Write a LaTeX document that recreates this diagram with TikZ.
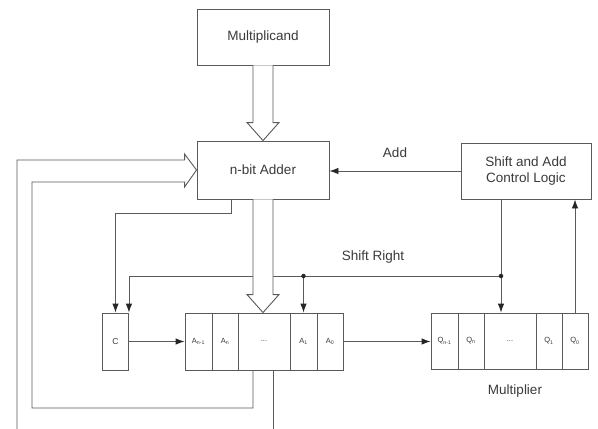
\documentclass[tikz,border=0pt]{standalone}
\usepackage{fontspec}
\setmainfont{Liberation Sans}
\usetikzlibrary{arrows.meta,calc}
\definecolor{lc}{HTML}{5A5A5A}
\definecolor{tc}{HTML}{3A3A3A}
\begin{document}
\begin{tikzpicture}[x=1pt,y=-1pt,
  box/.style={draw=lc, line width=0.9pt, inner sep=0pt, text=tc, font=\fontsize{13.5}{16}\selectfont, align=center},
  cell/.style={draw=lc, line width=0.9pt, inner sep=0pt, font=\fontsize{7.5}{8}\selectfont, text=tc},
  conn/.style={draw=lc, line width=0.9pt},
  arr/.style={conn, -{Latex[length=9pt,width=6.5pt,color=black!85]}},
  lbl/.style={text=tc, font=\fontsize{13.5}{16}\selectfont, inner sep=0pt},
  jdot/.style={circle, fill=black!85, inner sep=0pt, minimum size=4.5pt},
  bus/.style={draw=lc, line width=0.9pt, fill=white, line join=miter}
]
\useasboundingbox (0,0) rectangle (598,429);
\fill[white] (0,0) rectangle (598,429);

% boxes
\node[box, minimum width=132pt, minimum height=56pt] (mcand) at (263,37) {Multiplicand};
\node[box, minimum width=132pt, minimum height=58pt] (adder) at (263,170) {n-bit Adder};
\node[box, minimum width=130pt, minimum height=56pt] (ctrl) at (526,171) {Shift and Add\\Control Logic};
\node[cell, minimum width=26pt, minimum height=57pt, font=\fontsize{8.5}{9}\selectfont] (cbox) at (115.5,341.5) {C};

% A register
\node[cell, minimum width=27pt, minimum height=57pt] (a1) at (198.5,341.5) {A\textsubscript{n-1}};
\node[cell, minimum width=26pt, minimum height=57pt] (a2) at (225,341.5) {A\textsubscript{n}};
\node[cell, minimum width=52pt, minimum height=57pt] (a3) at (264,341.5) {...};
\node[cell, minimum width=27pt, minimum height=57pt] (a4) at (303.5,341.5) {A\textsubscript{1}};
\node[cell, minimum width=26pt, minimum height=57pt] (a5) at (330,341.5) {A\textsubscript{0}};

% Q register
\node[cell, minimum width=27pt, minimum height=56pt] (q1) at (444.5,341) {Q\textsubscript{n-1}};
\node[cell, minimum width=26pt, minimum height=56pt] (q2) at (471,341) {Q\textsubscript{n}};
\node[cell, minimum width=52pt, minimum height=56pt] (q3) at (510,341) {...};
\node[cell, minimum width=26pt, minimum height=56pt] (q4) at (549,341) {Q\textsubscript{1}};
\node[cell, minimum width=26pt, minimum height=56pt] (q5) at (575,341) {Q\textsubscript{0}};

% labels
\node[lbl] (addlbl) at (395,153) {Add};
\node[lbl] (srlbl) at (373,257) {Shift Right};
\node[lbl] (mplbl) at (515,391) {Multiplier};

% Add signal
\draw[arr] (ctrl.west) -- (ctrl.west -| adder.east);

% adder carry to C
\draw[arr] ($(adder.south)+(-32,0)$) -- ++(0,14) -| (cbox.north);

% shift right
\coordinate (d1) at (501,276);
\coordinate (d2) at (a4.north |- d1);
\draw[conn] (d1 |- ctrl.south) -- (d1);
\draw[arr] (d1) -- (d1 |- q3.north);
\draw[arr] (d1) -| (cbox.north east);
\draw[arr] (d2) -- (a4.north);
\node[jdot] (j1) at (d1) {};
\node[jdot] (j2) at (d2) {};

% C to A, A to Q
\draw[arr] (cbox.east) -- (cbox.east -| a1.west);
\draw[arr] (a5.east) -- (a5.east -| q1.west);

% Q0 to control
\draw[arr] (q5.north) -- (q5.north |- ctrl.south);

% hollow bus arrows
\draw[bus] ($(mcand.south)+(-10,0)$) -- ($(adder.north)+(-10,-18)$) -- ($(adder.north)+(-16,-18)$)
  -- (adder.north) -- ($(adder.north)+(16,-18)$) -- ($(adder.north)+(10,-18)$) -- ($(mcand.south)+(10,0)$);
\draw[bus] ($(adder.south)+(-10,0)$) -- ($(a3.north)+(-11,-18)$) -- ($(a3.north)+(-17,-18)$)
  -- ($(a3.north)+(-1,0)$) -- ($(a3.north)+(15,-18)$) -- ($(a3.north)+(9,-18)$) -- ($(adder.south)+(10,0)$);

% feedback bus from A register to adder
\draw[conn, line join=miter] ($(a3.south)+(9,0)$) -- ($(a3.south)+(9,70)$);
\draw[conn, line join=miter] (17,440) -- (17,160) -- ($(adder.west)+(-12,-10)$) -- ($(adder.west)+(-12,-16)$)
  -- (adder.west) -- ($(adder.west)+(-12,17)$) -- ($(adder.west)+(-12,12)$) -- (32,182) -- (32,408)
  -- ($(a3.south |- 0,408)+(-11,0)$) -- ($(a3.south)+(-11,0)$);
\end{tikzpicture}
\end{document}
